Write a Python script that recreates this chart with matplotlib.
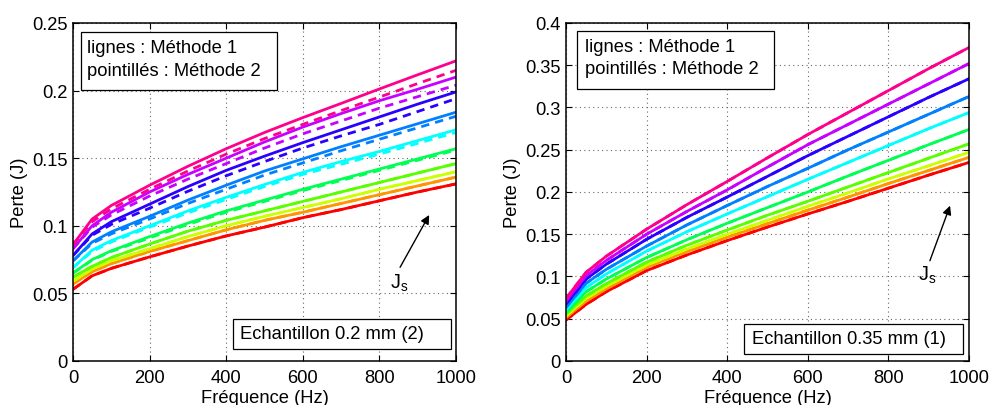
import matplotlib
matplotlib.use("Agg")
import matplotlib.pyplot as plt
from matplotlib.patches import Rectangle

plt.rcParams['font.family'] = ['Liberation Sans', 'DejaVu Sans']
plt.rcParams['mathtext.fontset'] = 'custom'
plt.rcParams['mathtext.rm'] = 'Liberation Sans'

# frequencies (Hz) where the curves were read
freq = [0, 50, 100, 200, 300, 400, 500, 600, 700, 800, 900, 1000]

# losses (J), one row per Js level, lowest (red) to highest (pink)
# panel 1 : Echantillon 0.2 mm (2)
left_m1 = [
    [0.053, 0.063, 0.0685, 0.077, 0.085, 0.0925, 0.099, 0.106, 0.112, 0.1185, 0.125, 0.131],
    [0.057, 0.066, 0.072, 0.081, 0.089, 0.097, 0.104, 0.110, 0.1165, 0.123, 0.1295, 0.136],
    [0.059, 0.068, 0.074, 0.083, 0.092, 0.100, 0.107, 0.1135, 0.120, 0.127, 0.1335, 0.140],
    [0.062, 0.070, 0.0765, 0.0865, 0.096, 0.104, 0.111, 0.118, 0.125, 0.132, 0.139, 0.146],
    [0.065, 0.075, 0.0815, 0.092, 0.102, 0.111, 0.119, 0.127, 0.1345, 0.142, 0.1495, 0.157],
    [0.069, 0.082, 0.089, 0.100, 0.111, 0.121, 0.1305, 0.1395, 0.1475, 0.155, 0.163, 0.171],
    [0.074, 0.088, 0.0955, 0.107, 0.119, 0.130, 0.1405, 0.1495, 0.1585, 0.167, 0.1755, 0.184],
    [0.078, 0.094, 0.103, 0.116, 0.129, 0.141, 0.1515, 0.1615, 0.171, 0.1805, 0.190, 0.199],
    [0.083, 0.100, 0.110, 0.125, 0.138, 0.150, 0.162, 0.173, 0.183, 0.1925, 0.201, 0.210],
    [0.086, 0.105, 0.115, 0.130, 0.144, 0.157, 0.169, 0.180, 0.1905, 0.2012, 0.2117, 0.222],
]
left_m2 = [
    [0.053, 0.063, 0.0685, 0.077, 0.085, 0.0925, 0.099, 0.106, 0.112, 0.1185, 0.125, 0.131],
    [0.057, 0.066, 0.072, 0.081, 0.089, 0.097, 0.104, 0.110, 0.1165, 0.123, 0.1295, 0.136],
    [0.059, 0.068, 0.074, 0.083, 0.092, 0.100, 0.107, 0.1135, 0.120, 0.127, 0.1335, 0.140],
    [0.062, 0.070, 0.0765, 0.0865, 0.096, 0.104, 0.111, 0.118, 0.125, 0.132, 0.139, 0.146],
    [0.065, 0.0745, 0.081, 0.091, 0.101, 0.110, 0.118, 0.126, 0.1335, 0.141, 0.1485, 0.156],
    [0.069, 0.081, 0.088, 0.099, 0.1095, 0.1195, 0.129, 0.138, 0.1455, 0.153, 0.161, 0.169],
    [0.074, 0.087, 0.094, 0.105, 0.1165, 0.127, 0.1375, 0.1465, 0.1555, 0.164, 0.1725, 0.181],
    [0.078, 0.093, 0.101, 0.113, 0.1255, 0.137, 0.1475, 0.1575, 0.1665, 0.175, 0.1845, 0.194],
    [0.083, 0.099, 0.108, 0.122, 0.1345, 0.146, 0.1575, 0.168, 0.1775, 0.187, 0.1955, 0.204],
    [0.086, 0.103, 0.1125, 0.127, 0.1405, 0.153, 0.1645, 0.175, 0.1852, 0.1952, 0.2052, 0.215],
]

# panel 2 : Echantillon 0.35 mm (1)
right_m1 = [
    [0.0485, 0.067, 0.082, 0.107, 0.1255, 0.1425, 0.1585, 0.174, 0.189, 0.2045, 0.220, 0.235],
    [0.0515, 0.071, 0.0855, 0.111, 0.1295, 0.1465, 0.1625, 0.1785, 0.194, 0.210, 0.2255, 0.241],
    [0.0535, 0.074, 0.0885, 0.1135, 0.1325, 0.150, 0.1665, 0.183, 0.199, 0.2155, 0.231, 0.247],
    [0.0555, 0.077, 0.0915, 0.117, 0.137, 0.155, 0.1725, 0.189, 0.206, 0.223, 0.240, 0.257],
    [0.0575, 0.082, 0.097, 0.1225, 0.1435, 0.163, 0.1815, 0.200, 0.219, 0.2375, 0.256, 0.274],
    [0.0605, 0.087, 0.103, 0.130, 0.153, 0.174, 0.1945, 0.215, 0.235, 0.255, 0.275, 0.294],
    [0.0635, 0.092, 0.1085, 0.136, 0.161, 0.184, 0.2065, 0.228, 0.250, 0.271, 0.292, 0.313],
    [0.0675, 0.097, 0.1145, 0.144, 0.170, 0.194, 0.2185, 0.243, 0.266, 0.289, 0.312, 0.334],
    [0.071, 0.101, 0.119, 0.150, 0.177, 0.2025, 0.2295, 0.256, 0.280, 0.304, 0.328, 0.352],
    [0.074, 0.105, 0.124, 0.156, 0.185, 0.2125, 0.2405, 0.268, 0.294, 0.320, 0.346, 0.371],
]
# the two methods coincide on this sample
right_m2 = [row[:] for row in right_m1]

colors = ['#ff0000', '#ff9500', '#ccff00', '#59ff00', '#00ff55',
          '#00ffff', '#0080ff', '#2a00ff', '#c800ff', '#ff008c']

xticks = [0, 200, 400, 600, 800, 1000]
left_yticks = [0, 0.05, 0.1, 0.15, 0.2, 0.25]
left_ylabels = ['0', '0.05', '0.1', '0.15', '0.2', '0.25']
right_yticks = [0, 0.05, 0.1, 0.15, 0.2, 0.25, 0.3, 0.35, 0.4]
right_ylabels = ['0', '0.05', '0.1', '0.15', '0.2', '0.25', '0.3', '0.35', '0.4']

fs = 13.2
fig = plt.figure(figsize=(9.9, 4.06), dpi=100)
ax1 = fig.add_axes([0.0737, 0.1084, 0.3869, 0.8325])
ax2 = fig.add_axes([0.5717, 0.1084, 0.4071, 0.8325])


def draw_panel(ax, m1, m2, yticks, ylabels, ymax):
    for i in range(len(m1)):
        ax.plot(freq, m1[i], color=colors[i], lw=2, solid_joinstyle='round')
        ax.plot(freq, m2[i], color=colors[i], lw=2, dashes=(3, 2.2))
    ax.set_xlim(0, 1000)
    ax.set_ylim(0, ymax)
    ax.set_xticks(xticks)
    ax.set_xticklabels([str(t) for t in xticks])
    ax.set_yticks(yticks)
    ax.set_yticklabels(ylabels)
    ax.grid(True, linestyle=(0, (1, 3)), color='0.4', lw=0.8)
    ax.tick_params(direction='in', top=True, right=True, length=4, labelsize=fs)
    ax.tick_params(axis='x', pad=6)
    ax.tick_params(axis='y', pad=4)
    for s in ax.spines.values():
        s.set_linewidth(1.1)
    ax.set_xlabel('Fréquence (Hz)', fontsize=fs, labelpad=2)
    ax.set_ylabel('Perte (J)', fontsize=fs, labelpad=3)


def add_box(ax, x0, y0, x1, y1):
    ax.add_patch(Rectangle((x0, y0), x1 - x0, y1 - y0, transform=ax.transAxes,
                           facecolor='white', edgecolor='black', lw=0.9, zorder=5))


draw_panel(ax1, left_m1, left_m2, left_yticks, left_ylabels, 0.25)
draw_panel(ax2, right_m1, right_m2, right_yticks, right_ylabels, 0.4)

# legend boxes
add_box(ax1, 0.0201, 0.8018, 0.5326, 0.9734)
ax1.text(0.0358, 0.9142, 'lignes : Méthode 1', transform=ax1.transAxes, fontsize=fs, va='baseline', zorder=6)
ax1.text(0.0358, 0.8462, 'pointillés : Méthode 2', transform=ax1.transAxes, fontsize=fs, va='baseline', zorder=6)
add_box(ax2, 0.0273, 0.8047, 0.5161, 0.9763)
ax2.text(0.0471, 0.9163, 'lignes : Méthode 1', transform=ax2.transAxes, fontsize=fs, va='baseline', zorder=6)
ax2.text(0.0471, 0.8520, 'pointillés : Méthode 2', transform=ax2.transAxes, fontsize=fs, va='baseline', zorder=6)

# sample boxes
add_box(ax1, 0.417, 0.0355, 0.986, 0.1243)
ax1.text(0.436, 0.0799, 'Echantillon 0.2 mm (2)', transform=ax1.transAxes, fontsize=fs, va='center', zorder=6)
add_box(ax2, 0.4424, 0.0207, 0.9859, 0.1095)
ax2.text(0.4607, 0.0651, 'Echantillon 0.35 mm (1)', transform=ax2.transAxes, fontsize=fs, va='center', zorder=6)

# Js arrows
ax1.annotate('', xy=(930, 0.108), xytext=(854, 0.0693),
             arrowprops=dict(arrowstyle='-|>', color='black', lw=1, mutation_scale=13, shrinkA=0, shrinkB=0))
ax1.text(851, 0.058, r'$\mathrm{J_s}$', fontsize=fs + 1, ha='center', va='center')
ax2.annotate('', xy=(953, 0.1838), xytext=(903, 0.1187),
             arrowprops=dict(arrowstyle='-|>', color='black', lw=1, mutation_scale=13, shrinkA=0, shrinkB=0))
ax2.text(896, 0.102, r'$\mathrm{J_s}$', fontsize=fs + 1, ha='center', va='center')

fig.savefig('out.png', dpi=100)
